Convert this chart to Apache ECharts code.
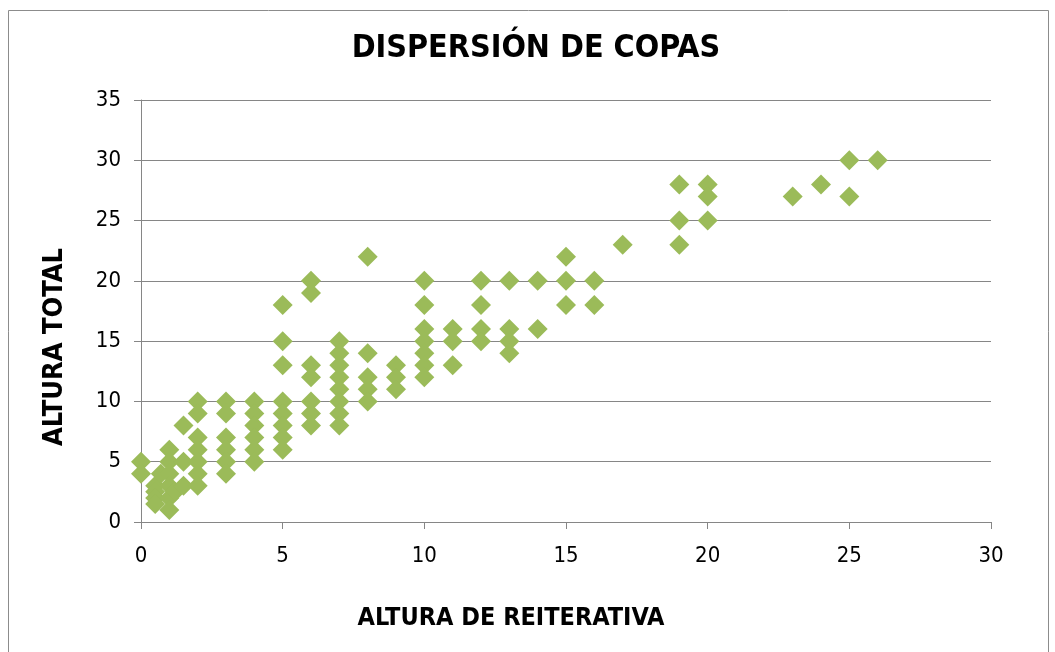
<!DOCTYPE html>
<html>
<head>
<meta charset="utf-8">
<script src="https://cdn.jsdelivr.net/npm/echarts@6/dist/echarts.min.js"></script>
<style>
html,body{margin:0;padding:0;background:#fff;}
#c{width:1055px;height:652px;}
</style>
</head>
<body>
<div id="c"></div>
<script>
const titleText = 'DISPERSIÓN DE COPAS';
const xAxisName = 'ALTURA DE REITERATIVA';
const yAxisName = 'ALTURA TOTAL';

// x value of each column of points (ALTURA DE REITERATIVA)
const columnX = [0, 0.5, 0.7, 1, 1.2, 1.5, 2, 3, 4, 5, 6, 7, 8, 9, 10, 11, 12, 13, 14, 15, 16, 17, 19, 20, 23, 24, 25, 26];
// y values (ALTURA TOTAL) at each column
const columnY = [
  [5, 4],
  [3, 2.5, 2, 1.5],
  [4],
  [6, 5, 4, 3, 2, 1],
  [2.5],
  [8, 5, 3],
  [10, 9, 7, 6, 5, 4, 3],
  [10, 9, 7, 6, 5, 4],
  [10, 9, 8, 7, 6, 5],
  [18, 15, 13, 10, 9, 8, 7, 6],
  [20, 19, 13, 12, 10, 9, 8],
  [15, 14, 13, 12, 11, 10, 9, 8],
  [22, 14, 12, 11, 10],
  [13, 12, 11],
  [20, 18, 16, 15, 14, 13, 12],
  [16, 15, 13],
  [20, 18, 16, 15],
  [20, 16, 15, 14],
  [20, 16],
  [22, 20, 18],
  [20, 18],
  [23],
  [28, 25, 23],
  [28, 27, 25],
  [27],
  [28],
  [30, 27],
  [30]
];

const points = [];
columnX.forEach((x, i) => columnY[i].forEach(y => points.push([x, y])));

const narrow = "'Liberation Sans Narrow', 'Arial Narrow', 'DejaVu Sans Condensed', sans-serif";
const axisGray = '#868686';

const chart = echarts.init(document.getElementById('c'), null, {renderer: 'canvas'});
chart.setOption({
  animation: false,
  backgroundColor: '#ffffff',
  graphic: [{
    type: 'rect',
    shape: {x: 8.5, y: 10.5, width: 1040, height: 660},
    style: {fill: 'none', stroke: '#8c8c8c', lineWidth: 1},
    silent: true
  }, {
    type: 'text',
    x: 536, y: 49,
    silent: true,
    style: {text: titleText, fill: '#000', fontFamily: narrow, fontWeight: 'bold', fontSize: 32, align: 'center', verticalAlign: 'middle'}
  }, {
    type: 'text',
    x: 511, y: 618,
    silent: true,
    style: {text: xAxisName, fill: '#000', fontFamily: narrow, fontWeight: 'bold', fontSize: 25, align: 'center', verticalAlign: 'middle'}
  }, {
    type: 'text',
    x: 55, y: 347,
    rotation: Math.PI / 2,
    silent: true,
    style: {text: yAxisName, fill: '#000', fontFamily: narrow, fontWeight: 'bold', fontSize: 27, align: 'center', verticalAlign: 'middle'}
  }],
  grid: {left: 141, right: 64, top: 100, bottom: 130, containLabel: false},
  xAxis: {
    type: 'value',
    min: 0, max: 30, interval: 5,
    axisLine: {show: true, lineStyle: {color: axisGray, width: 1}},
    axisTick: {show: true, length: 7, lineStyle: {color: axisGray}},
    axisLabel: {fontFamily: narrow, fontSize: 22, color: '#000', margin: 23},
    splitLine: {show: false}
  },
  yAxis: {
    type: 'value',
    min: 0, max: 35, interval: 5,
    axisLine: {show: true, lineStyle: {color: axisGray, width: 1}},
    axisTick: {show: true, length: 7, lineStyle: {color: axisGray}},
    axisLabel: {fontFamily: narrow, fontSize: 22, color: '#000', margin: 20},
    splitLine: {show: true, lineStyle: {color: axisGray, width: 1}}
  },
  series: [{
    type: 'scatter',
    data: points,
    symbol: 'diamond',
    symbolSize: 20,
    itemStyle: {color: '#9BBB59', opacity: 1}
  }]
});
</script>
</body>
</html>
